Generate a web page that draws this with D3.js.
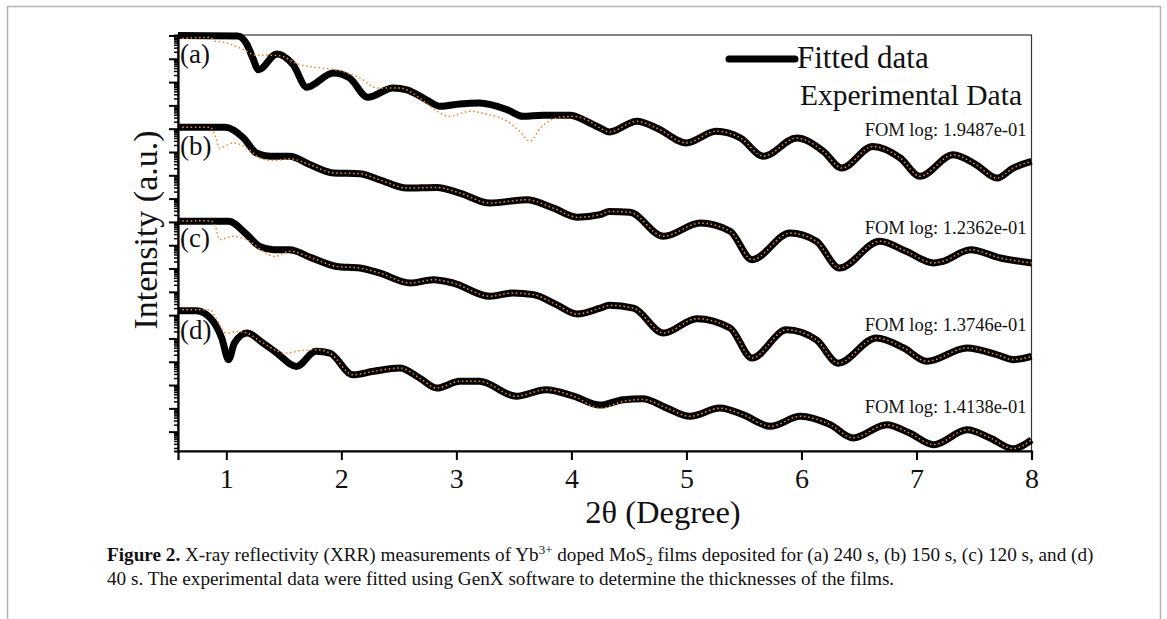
<!DOCTYPE html>
<html>
<head>
<meta charset="utf-8">
<title>XRR Yb MoS2</title>
<script src="https://cdn.jsdelivr.net/npm/d3@7"></script>
<style>
  body { margin: 0; background: #fff; }
  text { font-family: "Liberation Serif", "Times New Roman", serif; fill: #111; }
</style>
</head>
<body>
<script>
// 2theta (degree), log10 intensity (stacked, arbitrary offset)
var fitA = [[0.58,0],[1.10,-0.02],[1.18,-0.39],[1.23,-0.97],[1.28,-1.47],[1.44,-0.79],[1.58,-1.25],[1.70,-2.22],
  [1.93,-1.61],[2.07,-1.82],[2.23,-2.65],[2.45,-2.25],[2.57,-2.33],[2.74,-2.76],[2.86,-3.04],[3.03,-2.94],[3.20,-2.90],
  [3.44,-3.18],[3.58,-3.47],[3.75,-3.42],[3.99,-3.42],[4.13,-3.68],[4.25,-3.97],[4.33,-4.14],[4.57,-3.68],[4.74,-3.97],
  [5.00,-4.61],[5.26,-4.11],[5.47,-4.40],[5.67,-5.18],[5.96,-4.40],[6.19,-4.97],[6.35,-5.69],[6.62,-4.76],[6.86,-5.26],
  [7.03,-6.04],[7.32,-5.12],[7.52,-5.55],[7.70,-6.12],[7.84,-5.69],[8.00,-5.40]];
var expA = [[0.58,-0.14],[0.86,-0.08],[0.90,-0.24],[1.00,-0.32],[1.15,-0.61],[1.26,-0.85],[1.44,-0.85],[1.64,-1.25],
  [1.81,-1.39],[1.99,-1.51],[2.16,-1.82],[2.31,-2.25],[2.51,-2.25],[2.68,-2.68],[2.83,-3.25],[2.94,-3.47],[3.12,-3.25],
  [3.26,-3.37],[3.44,-3.68],[3.55,-4.11],[3.64,-4.54],[3.73,-3.97],[3.90,-3.51],[4.02,-3.47],[4.13,-3.61],[4.25,-3.97],
  [4.33,-4.14],[4.57,-3.68],[4.74,-3.97],[5.00,-4.61],[5.26,-4.11],[5.47,-4.40],[5.67,-5.18],[5.96,-4.40],[6.19,-4.97],
  [6.35,-5.69],[6.62,-4.76],[6.86,-5.26],[7.03,-6.04],[7.32,-5.12],[7.52,-5.55],[7.70,-6.12],[7.84,-5.69],[8.00,-5.40]];

var fitB = [[0.58,-3.94],[0.99,-3.94],[1.15,-4.40],[1.26,-5.04],[1.38,-5.18],[1.55,-5.18],[1.73,-5.55],[1.93,-5.90],
  [2.16,-5.93],[2.33,-6.19],[2.57,-6.55],[2.83,-6.52],[3.03,-6.76],[3.29,-7.19],[3.61,-7.05],[3.84,-7.40],[4.05,-7.80],
  [4.25,-7.69],[4.33,-7.55],[4.51,-7.59],[4.80,-8.62],[5.12,-8.05],[5.38,-8.40],[5.57,-9.62],[5.90,-8.48],[6.13,-8.83],
  [6.33,-9.98],[6.68,-8.83],[6.91,-9.26],[7.15,-9.76],[7.23,-9.69],[7.47,-9.19],[7.73,-9.55],[8.00,-9.76]];
var expB = [[0.58,-3.94],[0.86,-3.94],[0.91,-4.40],[0.94,-4.83],[1.06,-4.61],[1.18,-4.83],[1.29,-5.26],[1.41,-5.37],
  [1.55,-5.29],[1.73,-5.55],[1.93,-5.90],[2.16,-5.93],[2.33,-6.19],[2.57,-6.55],[2.83,-6.52],[3.03,-6.76],[3.29,-7.19],
  [3.61,-7.05],[3.84,-7.40],[4.05,-7.80],[4.25,-7.69],[4.33,-7.55],[4.51,-7.59],[4.80,-8.62],[5.12,-8.05],[5.38,-8.40],
  [5.57,-9.62],[5.90,-8.48],[6.13,-8.83],[6.33,-9.98],[6.68,-8.83],[6.91,-9.26],[7.15,-9.76],[7.23,-9.69],[7.47,-9.19],
  [7.73,-9.55],[8.00,-9.76]];

var fitC = [[0.58,-7.97],[1.02,-7.97],[1.18,-8.55],[1.29,-9.05],[1.41,-9.19],[1.55,-9.19],[1.73,-9.52],[1.96,-9.91],
  [2.16,-9.98],[2.33,-10.19],[2.60,-10.62],[2.80,-10.48],[2.97,-10.62],[3.29,-11.19],[3.49,-11.05],[3.67,-11.12],
  [3.87,-11.55],[4.05,-11.95],[4.25,-11.70],[4.33,-11.58],[4.54,-11.70],[4.80,-12.77],[5.09,-12.15],[5.38,-12.55],
  [5.57,-13.84],[5.87,-12.63],[6.13,-13.06],[6.32,-14.06],[6.65,-12.98],[6.89,-13.41],[7.09,-13.98],[7.44,-13.41],
  [7.70,-13.70],[7.84,-13.91],[8.00,-13.77]];
var expC = [[0.58,-7.97],[0.86,-7.95],[0.91,-8.26],[0.94,-8.76],[1.06,-8.62],[1.20,-8.83],[1.32,-9.26],[1.42,-9.48],
  [1.55,-9.26],[1.73,-9.52],[1.96,-9.91],[2.16,-9.98],[2.33,-10.19],[2.60,-10.62],[2.80,-10.48],[2.97,-10.62],
  [3.29,-11.19],[3.49,-11.05],[3.67,-11.12],[3.87,-11.55],[4.05,-11.95],[4.25,-11.70],[4.33,-11.58],[4.54,-11.70],
  [4.80,-12.77],[5.09,-12.15],[5.38,-12.55],[5.57,-13.84],[5.87,-12.63],[6.13,-13.06],[6.32,-14.06],[6.65,-12.98],
  [6.89,-13.41],[7.09,-13.98],[7.44,-13.41],[7.70,-13.70],[7.84,-13.91],[8.00,-13.77]];

var fitD = [[0.58,-11.81],[0.74,-11.81],[0.86,-12.12],[0.96,-12.98],[1.02,-13.91],[1.07,-13.20],[1.18,-12.77],
  [1.32,-13.20],[1.44,-13.63],[1.61,-14.20],[1.78,-13.55],[1.90,-13.63],[2.10,-14.56],[2.28,-14.41],[2.51,-14.27],
  [2.68,-14.70],[2.83,-15.13],[3.03,-14.84],[3.20,-14.84],[3.52,-15.48],[3.78,-15.20],[4.02,-15.48],[4.25,-15.86],
  [4.45,-15.63],[4.62,-15.59],[4.83,-15.99],[5.03,-16.34],[5.29,-15.99],[5.49,-16.27],[5.73,-16.77],[5.99,-16.34],
  [6.25,-16.70],[6.45,-17.27],[6.74,-16.70],[6.94,-17.06],[7.15,-17.56],[7.44,-16.92],[7.64,-17.27],[7.84,-17.73],
  [8.00,-17.35]];
var expD = [[0.58,-11.77],[0.86,-11.77],[0.91,-12.12],[1.00,-12.77],[1.09,-12.70],[1.18,-12.77],[1.32,-13.20],
  [1.52,-13.63],[1.64,-13.53],[1.78,-13.48],[1.90,-13.63],[2.10,-14.56],[2.28,-14.41],[2.51,-14.27],[2.68,-14.70],
  [2.83,-15.13],[3.03,-14.84],[3.20,-14.84],[3.52,-15.48],[3.78,-15.20],[4.02,-15.48],[4.25,-16.00],[4.45,-15.70],
  [4.62,-15.62],[4.83,-15.99],[5.03,-16.34],[5.29,-15.99],[5.49,-16.27],[5.73,-16.77],[5.99,-16.34],[6.25,-16.70],
  [6.45,-17.27],[6.74,-16.70],[6.94,-17.06],[7.15,-17.56],[7.44,-16.92],[7.64,-17.27],[7.84,-17.73],[8.00,-17.35]];

var fits = [fitA, fitB, fitC, fitD];
var exps = [expA, expB, expC, expD];
var curveNames = ["(a)", "(b)", "(c)", "(d)"];
var fomTexts = ["FOM log: 1.9487e-01", "FOM log: 1.2362e-01", "FOM log: 1.3746e-01", "FOM log: 1.4138e-01"];
var xTicks = [1, 2, 3, 4, 5, 6, 7, 8];
var legendNames = ["Fitted data", "Experimental Data"];

var W = 1167, H = 619;
var margin = {top: 35, left: 178},
    width = 853.5,
    height = 416;

var svg = d3.select("body").append("svg")
    .attr("width", W)
    .attr("height", H);

// page frame around the figure
svg.append("path")
    .attr("d", "M7.5,640V6.5H1160.5V640")
    .attr("fill", "none")
    .attr("stroke", "#b4b4b4")
    .attr("stroke-width", 1.5);

var g = svg.append("g")
    .attr("transform", "translate(" + margin.left + "," + margin.top + ")");

var x = d3.scaleLinear().domain([0.58, 8]).range([0, width]);
var y = d3.scaleLog().domain([Math.pow(10, -17.83), Math.pow(10, 0.02)]).range([height, 0]);

// log ticks for the y axis (1..9 x 10^k)
var majorY = [], minorY = [];
for (var k = -18; k <= 0; k++) {
  for (var m = 1; m <= 9; m++) {
    var v = m * Math.pow(10, k);
    if (v >= y.domain()[0] && v <= y.domain()[1]) (m === 1 ? majorY : minorY).push(v);
  }
}

// box
g.append("rect")
    .attr("width", width).attr("height", height)
    .attr("fill", "none").attr("stroke", "#333").attr("stroke-width", 1.2);

var line = d3.line()
    .x(function(d) { return x(d[0]); })
    .y(function(d) { return y(Math.pow(10, d[1])); })
    .curve(d3.curveMonotoneX);

g.selectAll(".fit")
    .data(fits)
    .enter().append("path")
    .attr("class", "fit")
    .attr("d", line)
    .attr("fill", "none")
    .attr("stroke", "#000")
    .attr("stroke-width", 7)
    .attr("stroke-linejoin", "round");

g.selectAll(".exp")
    .data(exps)
    .enter().append("path")
    .attr("class", "exp")
    .attr("d", line)
    .attr("fill", "none")
    .attr("stroke", "#ee8a2a")
    .attr("stroke-width", 1.5)
    .attr("stroke-dasharray", "1.6,2.6");

// axes
g.append("g")
    .attr("transform", "translate(0," + height + ")")
    .call(d3.axisBottom(x).tickValues(xTicks).tickSize(9).tickPadding(8).tickFormat(d3.format("d")))
    .call(function(a) {
      a.select(".domain").attr("stroke-width", 2.2).attr("stroke", "#000");
      a.selectAll(".tick line").attr("stroke-width", 2).attr("stroke", "#000");
      a.selectAll("text").attr("font-size", 28).attr("font-family", "Liberation Serif").attr("fill", "#111");
    });

g.append("g")
    .call(d3.axisLeft(y).tickValues(minorY).tickSize(4).tickFormat(""))
    .call(function(a) {
      a.select(".domain").attr("stroke-width", 2.2).attr("stroke", "#000");
      a.selectAll(".tick line").attr("stroke-width", 1.5).attr("stroke", "#000");
    });
g.append("g")
    .call(d3.axisLeft(y).tickValues(majorY).tickSize(9).tickFormat(""))
    .call(function(a) {
      a.select(".domain").remove();
      a.selectAll(".tick line").attr("stroke-width", 2).attr("stroke", "#000");
    });

// curve labels
var labelY = [28, 120, 212, 304];
g.selectAll(".lab")
    .data(curveNames)
    .enter().append("text")
    .attr("x", 2)
    .attr("y", function(d, i) { return labelY[i]; })
    .attr("font-size", 27)
    .text(function(d) { return d; });

var fomY = [101, 199, 296, 378];
g.selectAll(".fom")
    .data(fomTexts)
    .enter().append("text")
    .attr("x", width - 5)
    .attr("y", function(d, i) { return fomY[i]; })
    .attr("text-anchor", "end")
    .attr("font-size", 18.5)
    .text(function(d) { return d; });

// legend
g.append("line")
    .attr("x1", 551).attr("x2", 617).attr("y1", 24).attr("y2", 24)
    .attr("stroke", "#000").attr("stroke-width", 7).attr("stroke-linecap", "round");
g.append("text").attr("x", 619).attr("y", 33).attr("font-size", 31).text(legendNames[0]);
g.append("text").attr("x", 622).attr("y", 70).attr("font-size", 29.5).text(legendNames[1]);

// axis titles
svg.append("text")
    .attr("x", 663).attr("y", 523)
    .attr("text-anchor", "middle")
    .attr("font-size", 32.5)
    .text("2\u03b8 (Degree)");

svg.append("text")
    .attr("transform", "translate(157,230) rotate(-90)")
    .attr("text-anchor", "middle")
    .attr("font-size", 34)
    .text("Intensity (a.u.)");

// caption
var cap = svg.append("text").attr("x", 107).attr("y", 561).attr("font-size", 19.2);
cap.append("tspan").attr("font-weight", "bold").text("Figure 2.");
cap.append("tspan").text(" X-ray reflectivity (XRR) measurements of Yb");
cap.append("tspan").attr("font-size", 13).attr("dy", -7).text("3+");
cap.append("tspan").attr("dy", 7).text(" doped MoS");
cap.append("tspan").attr("font-size", 13).attr("dy", 4).text("2");
cap.append("tspan").attr("dy", -4).text(" films deposited for (a) 240 s, (b) 150 s, (c) 120 s, and (d)");
svg.append("text").attr("x", 107).attr("y", 585).attr("font-size", 19.2)
    .text("40 s. The experimental data were fitted using GenX software to determine the thicknesses of the films.");
</script>
</body>
</html>
